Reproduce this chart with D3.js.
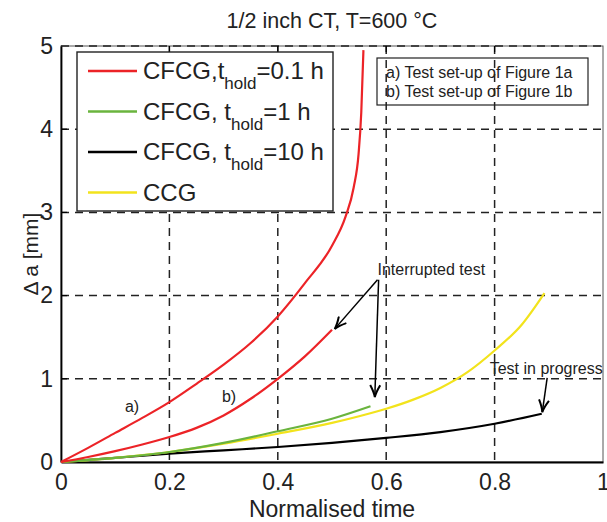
<!DOCTYPE html>
<html>
<head>
<meta charset="utf-8">
<script src="https://cdn.jsdelivr.net/npm/d3@7"></script>
<style>
  body { margin: 0; background: #fff; }
  text { font-family: "Liberation Sans", Arial, sans-serif; fill: #222; }
</style>
</head>
<body>
<div id="chart"></div>
<script>
// curves
var redA_x = [0, 0.05, 0.1, 0.15, 0.2, 0.25, 0.3, 0.35, 0.4, 0.45, 0.5, 0.525, 0.54, 0.549, 0.554, 0.558];
var redA_y = [0, 0.17, 0.35, 0.53, 0.72, 0.94, 1.17, 1.43, 1.75, 2.15, 2.6, 2.95, 3.3, 3.7, 4.2, 4.95];
var redB_x = [0, 0.05, 0.1, 0.15, 0.2, 0.25, 0.3, 0.35, 0.4, 0.45, 0.5];
var redB_y = [0, 0.06, 0.13, 0.21, 0.30, 0.41, 0.56, 0.76, 1.0, 1.27, 1.59];
var green_x = [0, 0.1, 0.2, 0.3, 0.4, 0.5, 0.571];
var green_y = [0, 0.05, 0.12, 0.23, 0.37, 0.52, 0.67];
var black_x = [0, 0.1, 0.2, 0.3, 0.4, 0.5, 0.6, 0.7, 0.8, 0.887];
var black_y = [0, 0.05, 0.1, 0.14, 0.18, 0.23, 0.29, 0.36, 0.46, 0.58];
var yellow_x = [0, 0.1, 0.2, 0.3, 0.4, 0.5, 0.55, 0.6, 0.65, 0.7, 0.75, 0.8, 0.85, 0.892];
var yellow_y = [0, 0.05, 0.12, 0.22, 0.34, 0.47, 0.55, 0.64, 0.75, 0.89, 1.08, 1.34, 1.65, 2.03];

var xTicks = [0, 0.2, 0.4, 0.6, 0.8, 1];
var yTicks = [0, 1, 2, 3, 4, 5];
var xTickLabels = ["0", "0.2", "0.4", "0.6", "0.8", "1"];
var yTickLabels = ["0", "1", "2", "3", "4", "5"];

var legendNames = [
  ["CFCG,t", "hold", "=0.1 h"],
  ["CFCG, t", "hold", "=1 h"],
  ["CFCG, t", "hold", "=10 h"],
  ["CCG", "", ""]
];
var legendColors = ["#ec2327", "#6ab43e", "#000000", "#f2e31c"];

var notes = ["a) Test set-up of Figure 1a", "b) Test set-up of Figure 1b"];

var margin = { top: 46, right: 4, bottom: 60, left: 61 },
    width = 607 - margin.left - margin.right,
    height = 522 - margin.top - margin.bottom;

var svgRoot = d3.select("#chart")
    .append("svg")
    .attr("width", 607)
    .attr("height", 522);

svgRoot.append("defs").append("marker")
    .attr("id", "head")
    .attr("viewBox", "0 0 14 12")
    .attr("refX", 13)
    .attr("refY", 6)
    .attr("markerWidth", 14)
    .attr("markerHeight", 12)
    .attr("markerUnits", "userSpaceOnUse")
    .attr("orient", "auto")
    .append("path")
    .attr("d", "M1,1 Q8,5 13,6 Q8,7 1,11")
    .attr("fill", "none")
    .attr("stroke", "#000")
    .attr("stroke-width", 2);

var svg = svgRoot.append("g")
    .attr("transform", "translate(" + margin.left + "," + margin.top + ")");

var x = d3.scaleLinear().domain([0, 1]).range([0, width]);
var y = d3.scaleLinear().domain([0, 5]).range([height, 0]);

// title
svgRoot.append("text")
    .attr("x", margin.left + width / 2)
    .attr("y", 28)
    .attr("text-anchor", "middle")
    .style("font-size", "21.5px")
    .text("1/2 inch CT, T=600 °C");

// frame (thin top/right)
svg.append("rect")
    .attr("width", width).attr("height", height)
    .attr("fill", "none").attr("stroke", "#555").attr("stroke-width", 1);

// grid
svg.append("g").selectAll("line.vg")
    .data(xTicks.slice(1, 5))
    .enter().append("line")
    .attr("x1", d => x(d)).attr("x2", d => x(d))
    .attr("y1", 0).attr("y2", height)
    .attr("stroke", "#222").attr("stroke-width", 1.5)
    .attr("stroke-dasharray", "8,6");
svg.append("g").selectAll("line.hg")
    .data(yTicks.slice(1))
    .enter().append("line")
    .attr("x1", 0).attr("x2", width)
    .attr("y1", d => y(d)).attr("y2", d => y(d))
    .attr("stroke", "#222").attr("stroke-width", 1.5)
    .attr("stroke-dasharray", "8,6");

// inward ticks on top and left
svg.append("g").selectAll("line.tt")
    .data(xTicks.slice(1, 5))
    .enter().append("line")
    .attr("x1", d => x(d)).attr("x2", d => x(d))
    .attr("y1", 0).attr("y2", 6)
    .attr("stroke", "#000").attr("stroke-width", 1.2);
svg.append("g").selectAll("line.lt")
    .data(yTicks.slice(1, 5))
    .enter().append("line")
    .attr("x1", 0).attr("x2", 6)
    .attr("y1", d => y(d)).attr("y2", d => y(d))
    .attr("stroke", "#000").attr("stroke-width", 1.2);

// axes
var xAxis = svg.append("g")
    .attr("transform", "translate(0," + height + ")")
    .call(d3.axisBottom(x).tickValues(xTicks).tickSize(0).tickPadding(12)
        .tickFormat((d, i) => xTickLabels[i]));
var yAxis = svg.append("g")
    .call(d3.axisLeft(y).tickValues(yTicks).tickSize(0).tickPadding(8)
        .tickFormat((d, i) => yTickLabels[i]));
[xAxis, yAxis].forEach(a => {
  a.select(".domain").attr("stroke", "#000").attr("stroke-width", 1.8);
  a.selectAll("text").style("font-size", "23px")
    .style("font-family", "'Liberation Sans', Arial, sans-serif").attr("fill", "#222");
});

svgRoot.append("text")
    .attr("x", margin.left + width / 2)
    .attr("y", 517)
    .attr("text-anchor", "middle")
    .style("font-size", "23px")
    .text("Normalised time");

svgRoot.append("text")
    .attr("transform", "translate(38," + (margin.top + height / 2) + ") rotate(-90)")
    .attr("text-anchor", "middle")
    .style("font-size", "21px")
    .text("Δ a [mm]");

// curves
var line = d3.line()
    .x(d => x(d[0]))
    .y(d => y(d[1]))
    .curve(d3.curveMonotoneX);

function pairs(xs, ys) { return xs.map((v, i) => [v, ys[i]]); }

var series = [
  { d: pairs(black_x, black_y), c: legendColors[2] },
  { d: pairs(yellow_x, yellow_y), c: legendColors[3] },
  { d: pairs(green_x, green_y), c: legendColors[1] },
  { d: pairs(redB_x, redB_y), c: legendColors[0] },
  { d: pairs(redA_x, redA_y), c: legendColors[0] }
];
svg.append("g").selectAll("path")
    .data(series)
    .enter().append("path")
    .attr("d", s => line(s.d))
    .attr("fill", "none")
    .attr("stroke", s => s.c)
    .attr("stroke-width", 2.2);

// labels on the red curves
svg.append("text").attr("x", x(0.118)).attr("y", y(0.6))
    .style("font-size", "16px").text("a)");
svg.append("text").attr("x", x(0.297)).attr("y", y(0.72))
    .style("font-size", "16px").text("b)");

// arrows and notes
var arrows = [
  [[0.584, 2.19], [0.505, 1.6]],
  [[0.586, 2.19], [0.579, 0.78]],
  [[0.897, 1.01], [0.888, 0.6]]
];
svg.append("g").selectAll("line")
    .data(arrows)
    .enter().append("line")
    .attr("x1", d => x(d[0][0])).attr("y1", d => y(d[0][1]))
    .attr("x2", d => x(d[1][0])).attr("y2", d => y(d[1][1]))
    .attr("stroke", "#000").attr("stroke-width", 1.5)
    .attr("marker-end", "url(#head)");

svg.append("text").attr("x", x(0.584)).attr("y", y(2.25))
    .style("font-size", "16px").text("Interrupted test");
svg.append("text").attr("x", x(0.791)).attr("y", y(1.06))
    .style("font-size", "16px").text("Test in progress");

// note box (unfilled)
var nb = svg.append("g").attr("transform", "translate(316,12)");
nb.append("rect")
    .attr("width", 211).attr("height", 47)
    .attr("fill", "none").attr("stroke", "#222").attr("stroke-width", 1.2);
nb.selectAll("text")
    .data(notes)
    .enter().append("text")
    .attr("x", 9)
    .attr("y", (d, i) => 20 + i * 19)
    .style("font-size", "16px")
    .text(d => d);

// legend
var lg = svg.append("g").attr("transform", "translate(16,6)");
lg.append("rect")
    .attr("width", 256).attr("height", 159)
    .attr("fill", "#fff").attr("stroke", "#222").attr("stroke-width", 1.4);
var rows = lg.selectAll("g.row")
    .data(legendNames)
    .enter().append("g")
    .attr("transform", (d, i) => "translate(0," + (19 + i * 40.5) + ")");
rows.append("line")
    .attr("x1", 11).attr("x2", 60)
    .attr("stroke", (d, i) => legendColors[i])
    .attr("stroke-width", 2.5);
var t = rows.append("text")
    .attr("x", 66).attr("y", 8)
    .style("font-size", "24px");
t.append("tspan").text(d => d[0]);
t.append("tspan").attr("dy", 10).style("font-size", "17px").text(d => d[1]);
t.append("tspan").attr("dy", -10).text(d => d[2]);
</script>
</body>
</html>
